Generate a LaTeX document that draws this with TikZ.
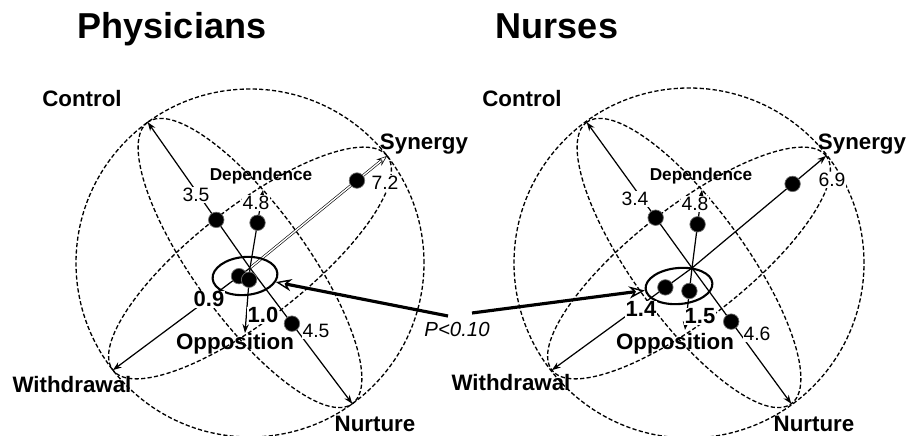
\documentclass[tikz,border=0pt]{standalone}
\usepackage{fontspec}
\setmainfont{Liberation Sans}
\usepackage{xcolor}
\definecolor{inkblack}{HTML}{000000}
\definecolor{dotedge}{HTML}{6E6E6E}
\usepackage{tikz}
\usetikzlibrary{arrows.meta,calc,shapes.geometric}

\begin{document}
\begin{tikzpicture}[
    globe/.style={inkblack, line width=0.75pt, dash pattern=on 2.4pt off 1.3pt},
    axis/.style={inkblack, line width=0.7pt, -{Stealth[length=5pt,width=3.6pt]}},
    hollowaxis/.style={inkblack, line width=0.35pt, double, double distance=0.8pt,
      -{Stealth[open,length=6pt,width=4.5pt]}},
    val/.style={anchor=base, fill=white, inner sep=0.6pt, font=\fontsize{11}{13}\selectfont},
    lowval/.style={anchor=base, fill=white, inner sep=0.6pt, font=\bfseries\fontsize{12.5}{14}\selectfont},
    pole/.style={anchor=base, inner sep=0pt, font=\bfseries\fontsize{12.7}{15}\selectfont},
    dot/.style={circle, fill=inkblack, draw=dotedge, line width=0.4pt, inner sep=0pt, minimum size=0.31cm},
    ring/.style={ellipse, draw=inkblack, line width=1.2pt, inner sep=0pt, rotate=5},
    pointer/.style={inkblack, line width=1.8pt, -{Stealth[open,line width=0.8pt,length=9pt,width=7pt]}},
    title/.style={anchor=base, font=\bfseries\fontsize{20.5}{24}\selectfont},
  ]
  \useasboundingbox (0,0) rectangle (18.12,8.72);

  % titles
  \node[title] (physicians) at (3.44,7.94) {Physicians};
  \node[title] (nurses) at (11.14,7.94) {Nurses};

  % physicians globe
  \begin{scope}[shift={(5.00,3.46)}]
    \draw[globe] (0,0) circle (3.48);
    \draw[globe, rotate=126] (0,0) ellipse (3.48 and 1.12);
    \draw[globe, rotate=38] (0,0) ellipse (3.48 and 1.12);
    \coordinate (po) at (0,-0.1);
    \coordinate (pcontrol) at (126:3.48);
    \coordinate (pnurture) at (-54:3.48);
    \coordinate (psynergy) at (38:3.48);
    \coordinate (pwithdrawal) at (218:3.48);
    \coordinate (pdependence) at (0.26,1.46);
    \coordinate (popposition) at (-0.10,-1.40);
    \draw[axis] (po) -- (pcontrol);
    \draw[axis] (po) -- (pnurture);
    \draw[hollowaxis] (po) -- (psynergy);
    \draw[axis] (po) -- (pwithdrawal);
    \draw[axis] (po) -- (pdependence);
    \draw[axis] (po) -- (popposition);
    \node[ring, minimum width=1.30cm, minimum height=0.76cm] (pring) at (-0.10,-0.26) {};
    % scores
    \node[val] (p35) at (-1.08,1.22) {3.5};
    \node[val] (p48) at (0.12,1.06) {4.8};
    \node[val] (p72) at (2.70,1.46) {7.2};
    \node[val] (p45) at (1.32,-1.50) {4.5};
    \node[lowval] (p09) at (-0.82,-0.88) {0.9};
    \node[lowval] (p10) at (0.26,-1.20) {1.0};
    \node[dot] (pd35) at ($(po)!0.33!(pcontrol)$) {};
    \node[dot] (pd48) at ($(po)!0.58!(pdependence)$) {};
    \node[dot] (pd72) at ($(po)!0.78!(psynergy)$) {};
    \node[dot] (pd45) at ($(po)!0.41!(pnurture)$) {};
    \node[dot] (pd09) at ($(po)!0.08!(pwithdrawal)$) {};
    \node[dot] (pd10) at ($(po)!0.18!(popposition)$) {};
    % poles
    \node[pole] (pctl) at (-3.36,3.12) {Control};
    \node[pole] (psyn) at (3.48,2.26) {Synergy};
    \node[pole] (pwdr) at (-3.56,-2.60) {Withdrawal};
    \node[pole] (pnur) at (2.50,-3.38) {Nurture};
    \node[pole] (popp) at (-0.30,-1.74) {Opposition};
    \node[pole, font=\bfseries\fontsize{9.8}{12}\selectfont] (pdep) at (0.22,1.64) {Dependence};
  \end{scope}

  % nurses globe
  \begin{scope}[shift={(13.78,3.46)}]
    \draw[globe] (0,0) circle (3.50);
    \draw[globe, rotate=126] (0,0) ellipse (3.48 and 1.12);
    \draw[globe, rotate=38] (0,0) ellipse (3.48 and 1.12);
    \coordinate (no) at (0.06,-0.1);
    \coordinate (ncontrol) at (126:3.48);
    \coordinate (nnurture) at (-54:3.48);
    \coordinate (nsynergy) at (38:3.48);
    \coordinate (nwithdrawal) at (218:3.48);
    \coordinate (ndependence) at (0.26,1.46);
    \coordinate (nopposition) at (-0.08,-1.34);
    \draw[axis] (no) -- (ncontrol);
    \draw[axis] (no) -- (nnurture);
    \draw[axis] (no) -- (nsynergy);
    \draw[axis] (no) -- (nwithdrawal);
    \draw[axis] (no) -- (ndependence);
    \draw[axis] (no) -- (nopposition);
    \node[ring, minimum width=1.34cm, minimum height=0.72cm] (nring) at (-0.20,-0.46) {};
    % scores
    \node[val] (n34) at (-1.08,1.14) {3.4};
    \node[val] (n48) at (0.12,1.04) {4.8};
    \node[val] (n69) at (2.86,1.52) {6.9};
    \node[val] (n46) at (1.36,-1.56) {4.6};
    \node[lowval] (n14) at (-0.96,-1.08) {1.4};
    \node[lowval] (n15) at (0.22,-1.22) {1.5};
    \node[dot] (nd34) at ($(no)!0.345!(ncontrol)$) {};
    \node[dot] (nd48) at ($(no)!0.56!(ndependence)$) {};
    \node[dot] (nd69) at ($(no)!0.75!(nsynergy)$) {};
    \node[dot] (nd46) at ($(no)!0.395!(nnurture)$) {};
    \node[dot] (nd14) at ($(no)!0.19!(nwithdrawal)$) {};
    \node[dot] (nd15) at ($(no)!0.37!(nopposition)$) {};
    % poles
    \node[pole] (nctl) at (-3.34,3.12) {Control};
    \node[pole] (nsyn) at (3.46,2.26) {Synergy};
    \node[pole] (nwdr) at (-3.56,-2.56) {Withdrawal};
    \node[pole] (nnur) at (2.50,-3.38) {Nurture};
    \node[pole] (nopp) at (-0.28,-1.74) {Opposition};
    \node[pole, font=\bfseries\fontsize{9.8}{12}\selectfont] (ndep) at (0.24,1.64) {Dependence};
  \end{scope}

  % significance
  \node[anchor=base, inner sep=0pt, font=\itshape\fontsize{11.6}{14}\selectfont] (pval) at (9.14,1.98) {P<0.10};
  \coordinate (pstart) at (8.96,2.40);
  \coordinate (nstart) at (9.44,2.46);
  \draw[pointer] (pstart) -- (pring);
  \draw[pointer] (nstart) -- (nring);
\end{tikzpicture}
\end{document}
